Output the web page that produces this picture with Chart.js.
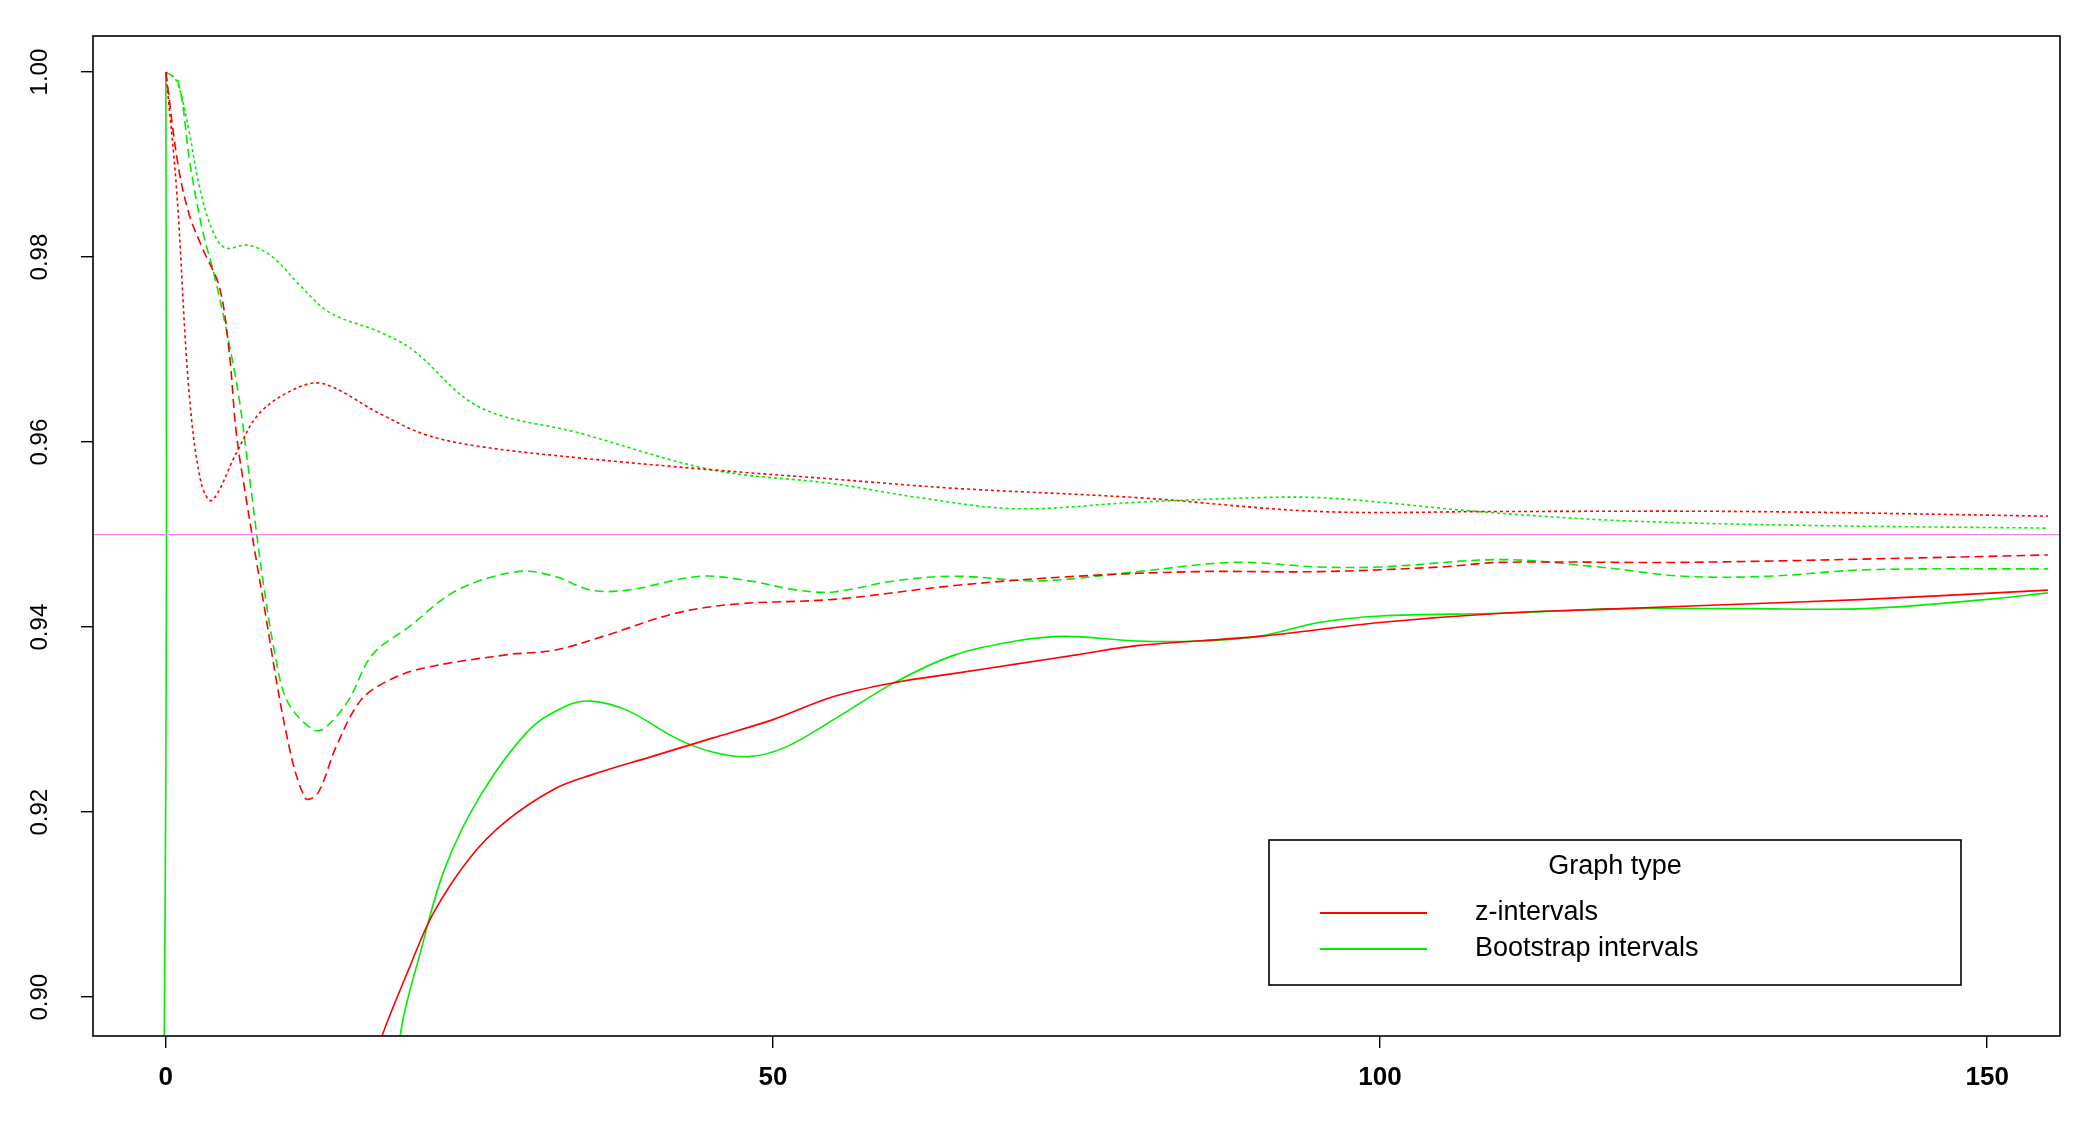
<!DOCTYPE html>
<html>
<head>
<meta charset="utf-8">
<script src="https://cdn.jsdelivr.net/npm/chart.js@4"></script>
<style>
  html, body { margin: 0; padding: 0; background: #fff; }
  canvas { display: block; }
</style>
</head>
<body>
<canvas id="c" width="2079" height="1122"></canvas>
<script>
// values
const xTicks = [0, 50, 100, 150];
const yTicks = [0.90, 0.92, 0.94, 0.96, 0.98, 1.00];
const nominal = 0.95;

const zUpperX = [0, 0.9, 1.9, 2.9, 3.8, 5.8, 7.7, 10.7, 13, 17.6, 21.4, 26, 34, 45, 55, 65, 80, 95, 110, 130, 155];
const zUpperY = [1.0, 0.987, 0.9656, 0.9556, 0.9537, 0.9588, 0.9631, 0.9658, 0.9663, 0.9631, 0.9608, 0.9595, 0.9583, 0.957, 0.956, 0.955, 0.954, 0.9525, 0.9525, 0.9525, 0.952];

const zMidX = [0, 1, 1.9, 3, 4.4, 5.2, 5.8, 6.6, 8, 10, 11.5, 12.5, 14, 16, 18, 21, 28, 32, 36, 42, 47, 55, 65, 75, 85, 95, 105, 110, 125, 145, 155];
const zMidY = [1.0, 0.99, 0.9847, 0.981, 0.9768, 0.970, 0.961, 0.954, 0.943, 0.928, 0.9215, 0.922, 0.927, 0.932, 0.934, 0.9355, 0.937, 0.9375, 0.939, 0.9415, 0.9425, 0.943, 0.9445, 0.9455, 0.946, 0.946, 0.9465, 0.947, 0.947, 0.9475, 0.9478];

const zLowX = [15, 17.8, 20, 22, 25, 28, 32, 35, 40, 45, 50, 55, 60, 65, 70, 75, 80, 90, 100, 110, 120, 130, 140, 155];
const zLowY = [0.885, 0.8958, 0.903, 0.909, 0.915, 0.919, 0.9225, 0.924, 0.926, 0.928, 0.930, 0.9325, 0.934, 0.935, 0.936, 0.937, 0.938, 0.939, 0.9405, 0.9415, 0.942, 0.9425, 0.943, 0.944];

const bUpperX = [0, 0.9, 1.9, 2.7, 3.8, 4.9, 6.8, 8.8, 11, 13.5, 17.6, 20.3, 25.8, 34, 45, 55, 62, 70, 80, 90, 95, 100, 108, 120, 135, 155];
const bUpperY = [1.0, 0.999, 0.9937, 0.988, 0.983, 0.981, 0.9813, 0.98, 0.977, 0.974, 0.9719, 0.970, 0.9638, 0.961, 0.957, 0.9555, 0.954, 0.9528, 0.9535, 0.954, 0.954, 0.9535, 0.9525, 0.9515, 0.951, 0.9507];

const bMidX = [0, 1, 2, 3, 4, 5, 6, 7, 8, 9, 10, 12, 13, 15, 17, 20, 24, 29, 32, 35, 38, 44, 48, 52, 55, 60, 65, 72, 80, 88, 95, 100, 110, 118, 125, 132, 140, 155];
const bMidY = [1.0, 0.999, 0.99, 0.983, 0.978, 0.972, 0.965, 0.955, 0.945, 0.937, 0.932, 0.929, 0.929, 0.932, 0.937, 0.94, 0.944, 0.946, 0.9455, 0.944, 0.944, 0.9455, 0.945, 0.944, 0.9438, 0.945, 0.9455, 0.945, 0.946, 0.947, 0.9465, 0.9465, 0.9473, 0.9465, 0.9455, 0.9455, 0.9462, 0.9463];

const bLowX = [0, 0.05, 0.12, 18.5, 19.3, 21, 23, 26, 30, 33, 35, 38, 42, 45, 48, 51, 55, 60, 65, 70, 74, 80, 85, 90, 95, 100, 110, 120, 130, 140, 150, 155];
const bLowY = [1.0, 0.955, 0.6, 0.88, 0.8958, 0.905, 0.914, 0.922, 0.929, 0.9315, 0.932, 0.931, 0.928, 0.9265, 0.926, 0.927, 0.930, 0.934, 0.937, 0.9385, 0.939, 0.9385, 0.9385, 0.939, 0.9405, 0.9412, 0.9415, 0.942, 0.942, 0.942, 0.943, 0.9437];

const RED = '#ff0000';
const GREEN = '#00ee00';
const FONT = '"Liberation Sans", Arial, sans-serif';

function zip(xs, ys) {
  return xs.map((x, i) => ({ x: x, y: ys[i] }));
}

function series(xs, ys, color, dash) {
  return {
    data: zip(xs, ys),
    borderColor: color,
    borderWidth: 1.6,
    borderDash: dash,
    pointRadius: 0,
    tension: 0.35,
    fill: false
  };
}

// frame box, rotated y labels and the legend, R style
const decorations = {
  id: 'decorations',
  afterDraw(chart) {
    const { ctx, chartArea: a, scales } = chart;
    ctx.save();
    ctx.strokeStyle = '#000';
    ctx.lineWidth = 1.6;
    ctx.strokeRect(a.left, a.top, a.right - a.left, a.bottom - a.top);

    ctx.fillStyle = '#000';
    ctx.font = '24px ' + FONT;
    ctx.textAlign = 'center';
    ctx.textBaseline = 'middle';
    yTicks.forEach(v => {
      const py = scales.y.getPixelForValue(v);
      ctx.save();
      ctx.translate(40, py);
      ctx.rotate(-Math.PI / 2);
      ctx.fillText(v.toFixed(2), 0, 0);
      ctx.restore();
    });

    // legend
    const lx = 1269, ly = 840, lw = 692, lh = 145;
    ctx.fillStyle = '#fff';
    ctx.fillRect(lx, ly, lw, lh);
    ctx.strokeRect(lx, ly, lw, lh);
    ctx.fillStyle = '#000';
    ctx.font = '27px ' + FONT;
    ctx.fillText('Graph type', 1615, 867);
    ctx.textAlign = 'left';
    [['z-intervals', RED, 913], ['Bootstrap intervals', GREEN, 949]].forEach(([label, color, y]) => {
      ctx.strokeStyle = color;
      ctx.lineWidth = 1.8;
      ctx.beginPath();
      ctx.moveTo(1320, y);
      ctx.lineTo(1427, y);
      ctx.stroke();
      ctx.fillStyle = '#000';
      ctx.fillText(label, 1475, y);
    });
    ctx.restore();
  }
};

new Chart(document.getElementById('c'), {
  type: 'line',
  data: {
    datasets: [
      {
        data: [{ x: -6, y: nominal }, { x: 156, y: nominal }],
        borderColor: '#ee82ee', borderWidth: 1.4, pointRadius: 0, tension: 0
      },
      series(zUpperX, zUpperY, RED, [3, 3]),
      series(zMidX, zMidY, RED, [9, 5]),
      series(zLowX, zLowY, RED, []),
      series(bUpperX, bUpperY, GREEN, [3, 3]),
      series(bMidX, bMidY, GREEN, [9, 5]),
      series(bLowX, bLowY, GREEN, [])
    ]
  },
  options: {
    responsive: false,
    animation: false,
    layout: { padding: { top: 36, right: 19, left: 0, bottom: 0 } },
    plugins: { legend: { display: false }, tooltip: { enabled: false } },
    scales: {
      x: {
        type: 'linear',
        min: -6, max: 156,
        afterBuildTicks: s => { s.ticks = xTicks.map(v => ({ value: v })); },
        afterFit: s => { s.height = 86; },
        grid: { display: true, drawOnChartArea: false, drawTicks: true, tickLength: 12, color: '#000', lineWidth: 1.4 },
        border: { display: false },
        ticks: { color: '#000', font: { family: FONT, size: 26, weight: 'bold' }, padding: 14, maxRotation: 0 }
      },
      y: {
        type: 'linear',
        min: 0.8958, max: 1.0039,
        afterBuildTicks: s => { s.ticks = yTicks.map(v => ({ value: v })); },
        afterFit: s => { s.width = 93; },
        grid: { display: true, drawOnChartArea: false, drawTicks: true, tickLength: 12, color: '#000', lineWidth: 1.4 },
        border: { display: false },
        ticks: { display: false }
      }
    }
  },
  plugins: [decorations]
});
</script>
</body>
</html>
